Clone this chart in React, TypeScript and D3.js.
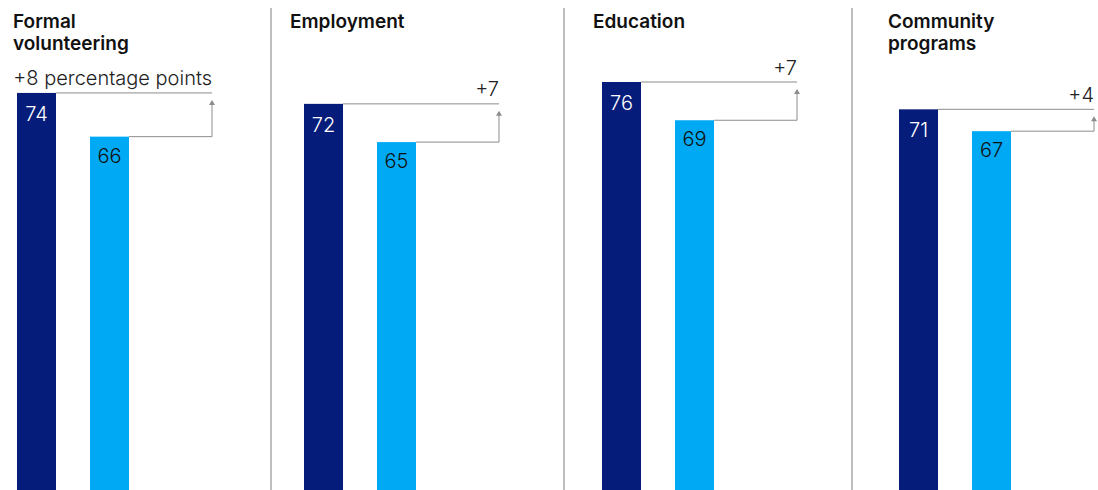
import React from "react";
import * as d3 from "d3";

// ---- Data ----
const categories = ["Formal volunteering", "Employment", "Education", "Community programs"];
const titleLines = [["Formal", "volunteering"], ["Employment"], ["Education"], ["Community", "programs"]];
const seriesA = [74, 72, 76, 71]; // dark bars
const seriesB = [66, 65, 69, 67]; // light bars
const diffLabels = ["+8 percentage points", "+7", "+7", "+4"];

// ---- Layout ----
const W = 1098;
const H = 490;
const panelX = [17, 304, 602, 899];
const titleX = [13, 290, 593, 888];
const separatorX = [271, 564, 852];
const BAR_W = 39;
const LIGHT_OFFSET = 73;
const ARROW_END = 195;

const DARK = "#051C7A";
const LIGHT = "#00A9F4";
const GREY = "#8C8C8C";
const FONT = "Inter, 'Liberation Sans', Arial, sans-serif";

export default function App() {
  const y = d3.scaleLinear().domain([0, 100]).range([497.2, 497.2 - 546.3]);

  return (
    <svg width={W} height={H} style={{ position: "absolute", left: 0, top: 0, background: "#fff" }} fontFamily={FONT}>
      {separatorX.map((sx, i) => (
        <line key={"sep" + i} x1={sx} x2={sx} y1={8} y2={H} stroke="#A8A8A8" strokeWidth={1.5} />
      ))}
      {categories.map((cat, i) => {
        const x0 = panelX[i];
        const yA = y(seriesA[i]);
        const yB = y(seriesB[i]);
        const xEnd = x0 + ARROW_END;
        const xL = x0 + LIGHT_OFFSET;
        const tipY = yA + 7;
        return (
          <g key={cat}>
            {titleLines[i].map((t, j) => (
              <text key={j} x={titleX[i]} y={27.5 + j * 22.5} fontSize={19} fontWeight={600} fill="#111">
                {t}
              </text>
            ))}
            <rect x={x0} y={yA} width={BAR_W} height={H - yA + 10} fill={DARK} />
            <rect x={xL} y={yB} width={BAR_W} height={H - yB + 10} fill={LIGHT} />
            <text x={x0 + BAR_W / 2} y={yA + 28} textAnchor="middle" fontSize={20} fontWeight={300} fill="#fff">
              {seriesA[i]}
            </text>
            <text x={xL + BAR_W / 2} y={yB + 26} textAnchor="middle" fontSize={20} fontWeight={300} fill="#111">
              {seriesB[i]}
            </text>
            <line x1={x0 + BAR_W} x2={xEnd} y1={yA} y2={yA} stroke={GREY} strokeWidth={1} />
            <polyline
              points={`${xL + BAR_W},${yB} ${xEnd},${yB} ${xEnd},${tipY + 4}`}
              fill="none"
              stroke={GREY}
              strokeWidth={1}
            />
            <path d={`M${xEnd - 3},${tipY + 5} L${xEnd},${tipY} L${xEnd + 3},${tipY + 5} Z`} fill={GREY} />
            <text x={xEnd} y={yA - 7.5} textAnchor="end" fontSize={20} fontWeight={300} fill="#222">
              {diffLabels[i]}
            </text>
          </g>
        );
      })}
    </svg>
  );
}
